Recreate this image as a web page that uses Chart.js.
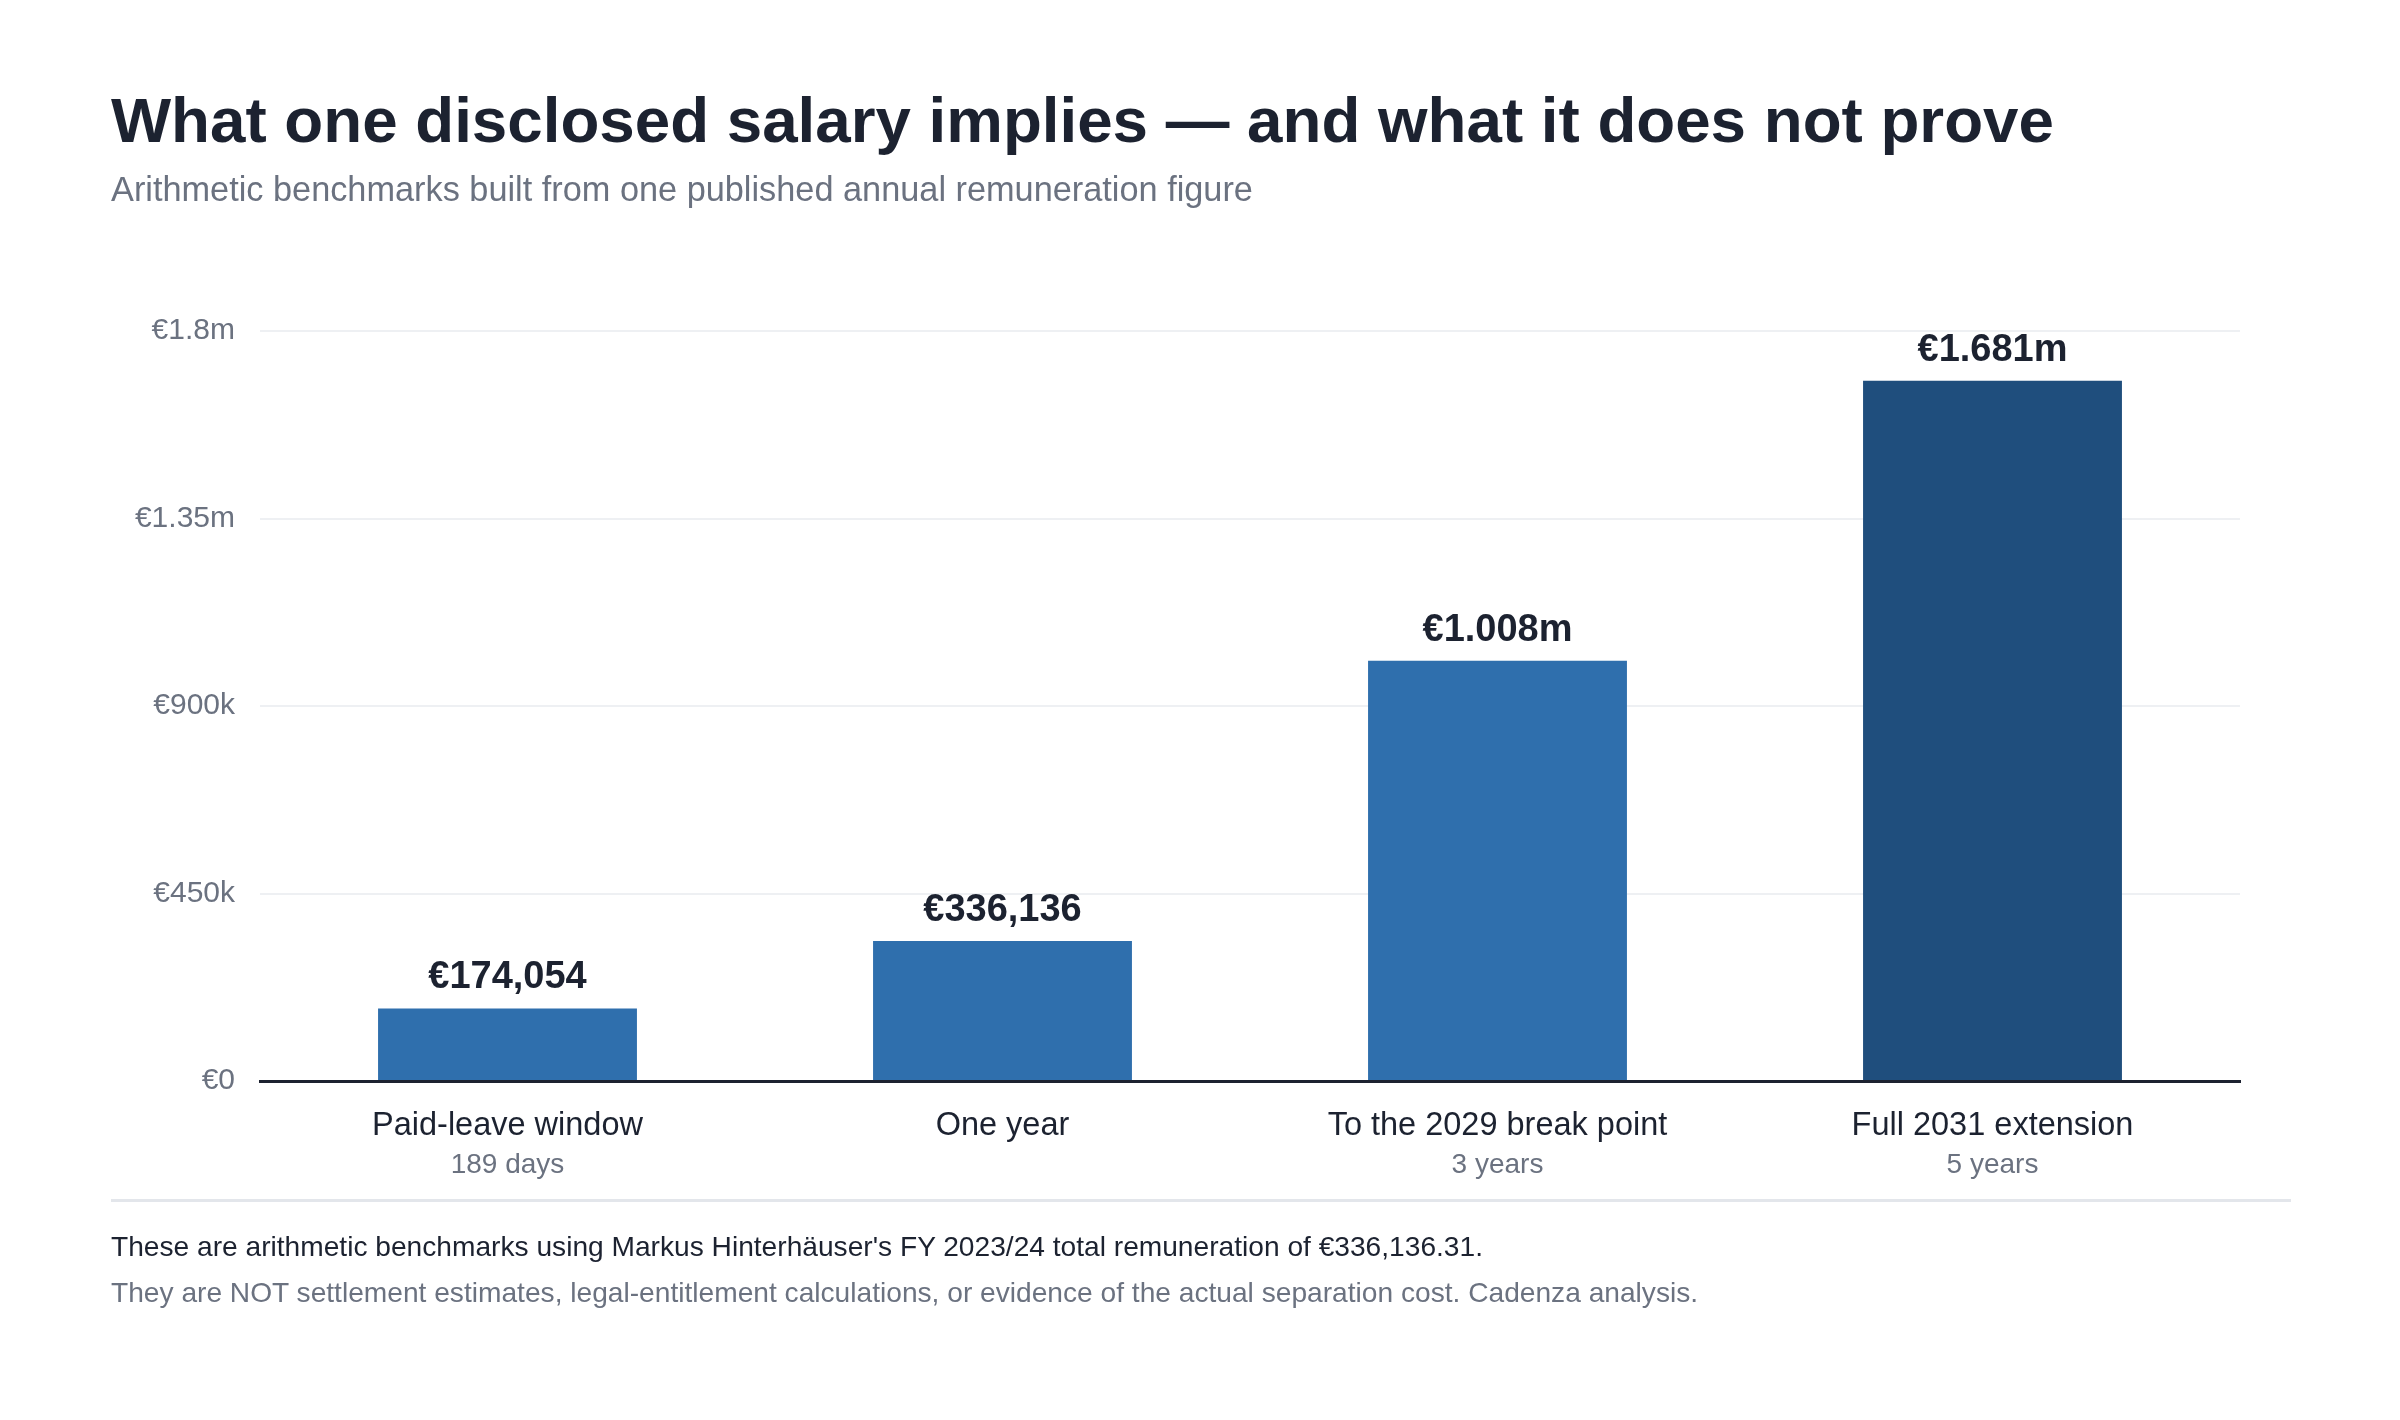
<!DOCTYPE html>
<html>
<head>
<meta charset="utf-8">
<script src="https://cdn.jsdelivr.net/npm/chart.js@4.4.1/dist/chart.umd.min.js"></script>
<style>
  html, body { margin: 0; padding: 0; background: #ffffff; }
  #wrap { position: relative; width: 2400px; height: 1420px; overflow: hidden; font-family: "Liberation Sans", Arial, Helvetica, sans-serif; }
  #c { position: absolute; left: 0; top: 0; }
  .t { position: absolute; white-space: nowrap; line-height: 1; }
  #title { left: 111px; top: 88px; font-size: 63.7px; font-weight: 700; color: #1c2230; }
  #subtitle { left: 111px; top: 172px; font-size: 34.3px; color: #6b7280; }
  #sep { position: absolute; left: 111px; top: 1199px; width: 2180px; height: 3px; background: #e3e6eb; }
  #note1 { left: 111px; top: 1233px; font-size: 28.15px; color: #1c2230; }
  #note2 { left: 111px; top: 1279px; font-size: 28.15px; color: #6b7280; }
</style>
</head>
<body>
<div id="wrap">
  <canvas id="c" width="2400" height="1420"></canvas>
  <div class="t" id="title">What one disclosed salary implies — and what it does not prove</div>
  <div class="t" id="subtitle">Arithmetic benchmarks built from one published annual remuneration figure</div>
  <div id="sep"></div>
  <div class="t" id="note1">These are arithmetic benchmarks using Markus Hinterhäuser's FY 2023/24 total remuneration of €336,136.31.</div>
  <div class="t" id="note2">They are NOT settlement estimates, legal-entitlement calculations, or evidence of the actual separation cost. Cadenza analysis.</div>
</div>
<script>
const categories = ['Paid-leave window', 'One year', 'To the 2029 break point', 'Full 2031 extension'];
const subLabels = ['189 days', '', '3 years', '5 years'];
const values = [174054, 336136, 1008409, 1680682];
const valueLabels = ['€174,054', '€336,136', '€1.008m', '€1.681m'];
const barColors = ['#2f6fad', '#2f6fad', '#2f6fad', '#1f4e7d'];
const tickValues = [0, 450000, 900000, 1350000, 1800000];
const tickLabels = ['€0', '€450k', '€900k', '€1.35m', '€1.8m'];

const FONT = '"Liberation Sans", Arial, Helvetica, sans-serif';

const valueLabelPlugin = {
  id: 'valueLabels',
  afterDatasetsDraw(chart) {
    const ctx = chart.ctx;
    const meta = chart.getDatasetMeta(0);
    ctx.save();
    ctx.font = 'bold 38px ' + FONT;
    ctx.fillStyle = '#1c2230';
    ctx.textAlign = 'center';
    ctx.textBaseline = 'alphabetic';
    meta.data.forEach((bar, i) => {
      ctx.fillText(valueLabels[i], bar.x, bar.y - 20);
    });
    ctx.restore();
  }
};

new Chart(document.getElementById('c'), {
  type: 'bar',
  data: {
    labels: categories,
    datasets: [{
      data: values,
      backgroundColor: barColors,
      borderWidth: 0,
      barPercentage: 0.523,
      categoryPercentage: 1.0,
      xAxisID: 'x',
      yAxisID: 'y'
    }]
  },
  options: {
    responsive: false,
    devicePixelRatio: 1,
    animation: false,
    layout: { padding: { top: 331, right: 160, bottom: 237, left: 0 } },
    plugins: { legend: { display: false }, tooltip: { enabled: false }, title: { display: false } },
    scales: {
      y: {
        min: 0,
        max: 1800000,
        afterFit(scale) { scale.width = 260; },
        afterBuildTicks(scale) { scale.ticks = tickValues.map(v => ({ value: v })); },
        ticks: {
          padding: 25,
          color: '#6b7280',
          font: { family: FONT, size: 30 },
          callback(value) { const i = tickValues.indexOf(value); return i >= 0 ? tickLabels[i] : ''; }
        },
        grid: { color: '#eef0f3', lineWidth: 2, drawTicks: false },
        border: { display: false }
      },
      x: {
        type: 'category',
        position: 'bottom',
        weight: 0,
        afterFit(scale) { scale.height = 62; },
        ticks: { padding: 26, color: '#1c2230', font: { family: FONT, size: 32.5 }, maxRotation: 0, autoSkip: false },
        grid: { display: false, drawTicks: false },
        border: { display: true, color: '#1c2230', width: 3 }
      },
      x2: {
        type: 'category',
        position: 'bottom',
        weight: 1,
        labels: subLabels,
        offset: true,
        afterFit(scale) { scale.height = 40; },
        ticks: { padding: 5, color: '#6b7280', font: { family: FONT, size: 28 }, maxRotation: 0, autoSkip: false },
        grid: { display: false, drawTicks: false },
        border: { display: false }
      }
    }
  },
  plugins: [valueLabelPlugin]
});
</script>
</body>
</html>
